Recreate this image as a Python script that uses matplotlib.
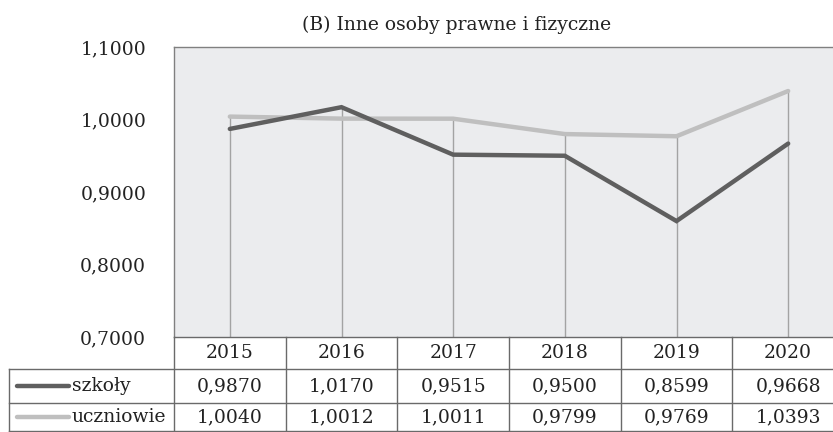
import numpy as np
import matplotlib.pyplot as plt
from matplotlib.lines import Line2D

plt.rcParams['font.family'] = ['DejaVu Serif']

years = ['2015', '2016', '2017', '2018', '2019', '2020']
szkoly = [0.9870, 1.0170, 0.9515, 0.9500, 0.8599, 0.9668]
uczniowie = [1.0040, 1.0012, 1.0011, 0.9799, 0.9769, 1.0393]
series_names = ['szkoły', 'uczniowie']
series_colors = ['#5f5f5f', '#bfbfbf']
yticks = [0.7, 0.8, 0.9, 1.0, 1.1]

W, H = 833, 432
FS = 13.5
TXT = '#222222'
BORDER = '#6a6a6a'

fig = plt.figure(figsize=(W / 100, H / 100), dpi=100)

# plot area in pixel coords (right edge runs past the image, as in the source)
left, right, top, bottom = 174, 844, 47, 337
ax = fig.add_axes([left / W, 1 - bottom / H, (right - left) / W, (bottom - top) / H])
ax.set_facecolor('#ebecee')
x = np.arange(len(years))

# drop lines up to the higher of the two series
tops = np.maximum(szkoly, uczniowie)
ax.vlines(x, 0.7, tops, color='#a3a3a3', linewidth=1.0, zorder=1)

for vals, col in zip([uczniowie, szkoly], series_colors[::-1]):
    ax.plot(x, vals, color=col, linewidth=3.2, solid_capstyle='round',
            solid_joinstyle='miter', zorder=2)

ax.set_xlim(-0.5, len(years) - 0.5)
ax.set_ylim(0.7, 1.1)
ax.set_xticks([])
ax.set_yticks(yticks)
ax.set_yticklabels([f'{v:.4f}'.replace('.', ',') for v in yticks], fontsize=FS, color=TXT)
ax.tick_params(axis='y', length=0, pad=20)
for s in ax.spines.values():
    s.set_color('#808080')
    s.set_linewidth(1.0)
ax.spines['bottom'].set_visible(False)

fig.text(457 / W, 1 - 25 / H, '(B) Inne osoby prawne i fizyczne', fontsize=FS,
         color=TXT, ha='center', va='center')

# data table under the plot, drawn in figure pixel coords
def fx(px):
    return px / W

def fy(py):
    return 1 - py / H

col_w = (right - left) / len(years)
rows_y = [337, 369, 403, 431]
lab_left = 9

def hline(y, x0, x1):
    fig.add_artist(Line2D([fx(x0), fx(x1)], [fy(y), fy(y)], color=BORDER, linewidth=1.0))

def vline(xp, y0, y1):
    fig.add_artist(Line2D([fx(xp), fx(xp)], [fy(y0), fy(y1)], color=BORDER, linewidth=1.0))

hline(rows_y[0], left, right)
hline(rows_y[1], lab_left, right)
hline(rows_y[2], lab_left, right)
hline(rows_y[3], lab_left, right)
vline(lab_left, rows_y[1], rows_y[3])
for i in range(len(years) + 1):
    vline(left + i * col_w, rows_y[0], rows_y[3])

for i, yr in enumerate(years):
    cx = left + (i + 0.5) * col_w
    fig.text(fx(cx), fy((rows_y[0] + rows_y[1]) / 2), yr, fontsize=FS, color=TXT,
             ha='center', va='center')
    for r, vals in enumerate([szkoly, uczniowie]):
        cy = (rows_y[r + 1] + rows_y[r + 2]) / 2
        fig.text(fx(cx), fy(cy), f'{vals[i]:.4f}'.replace('.', ','), fontsize=FS,
                 color=TXT, ha='center', va='center')

for r, (name, col) in enumerate(zip(series_names, series_colors)):
    cy = (rows_y[r + 1] + rows_y[r + 2]) / 2
    fig.add_artist(Line2D([fx(17), fx(69)], [fy(cy), fy(cy)], color=col,
                          linewidth=3.2, solid_capstyle='round'))
    fig.text(fx(72), fy(cy), name, fontsize=FS, color=TXT, ha='left', va='center')

fig.savefig('out.png', dpi=100)
